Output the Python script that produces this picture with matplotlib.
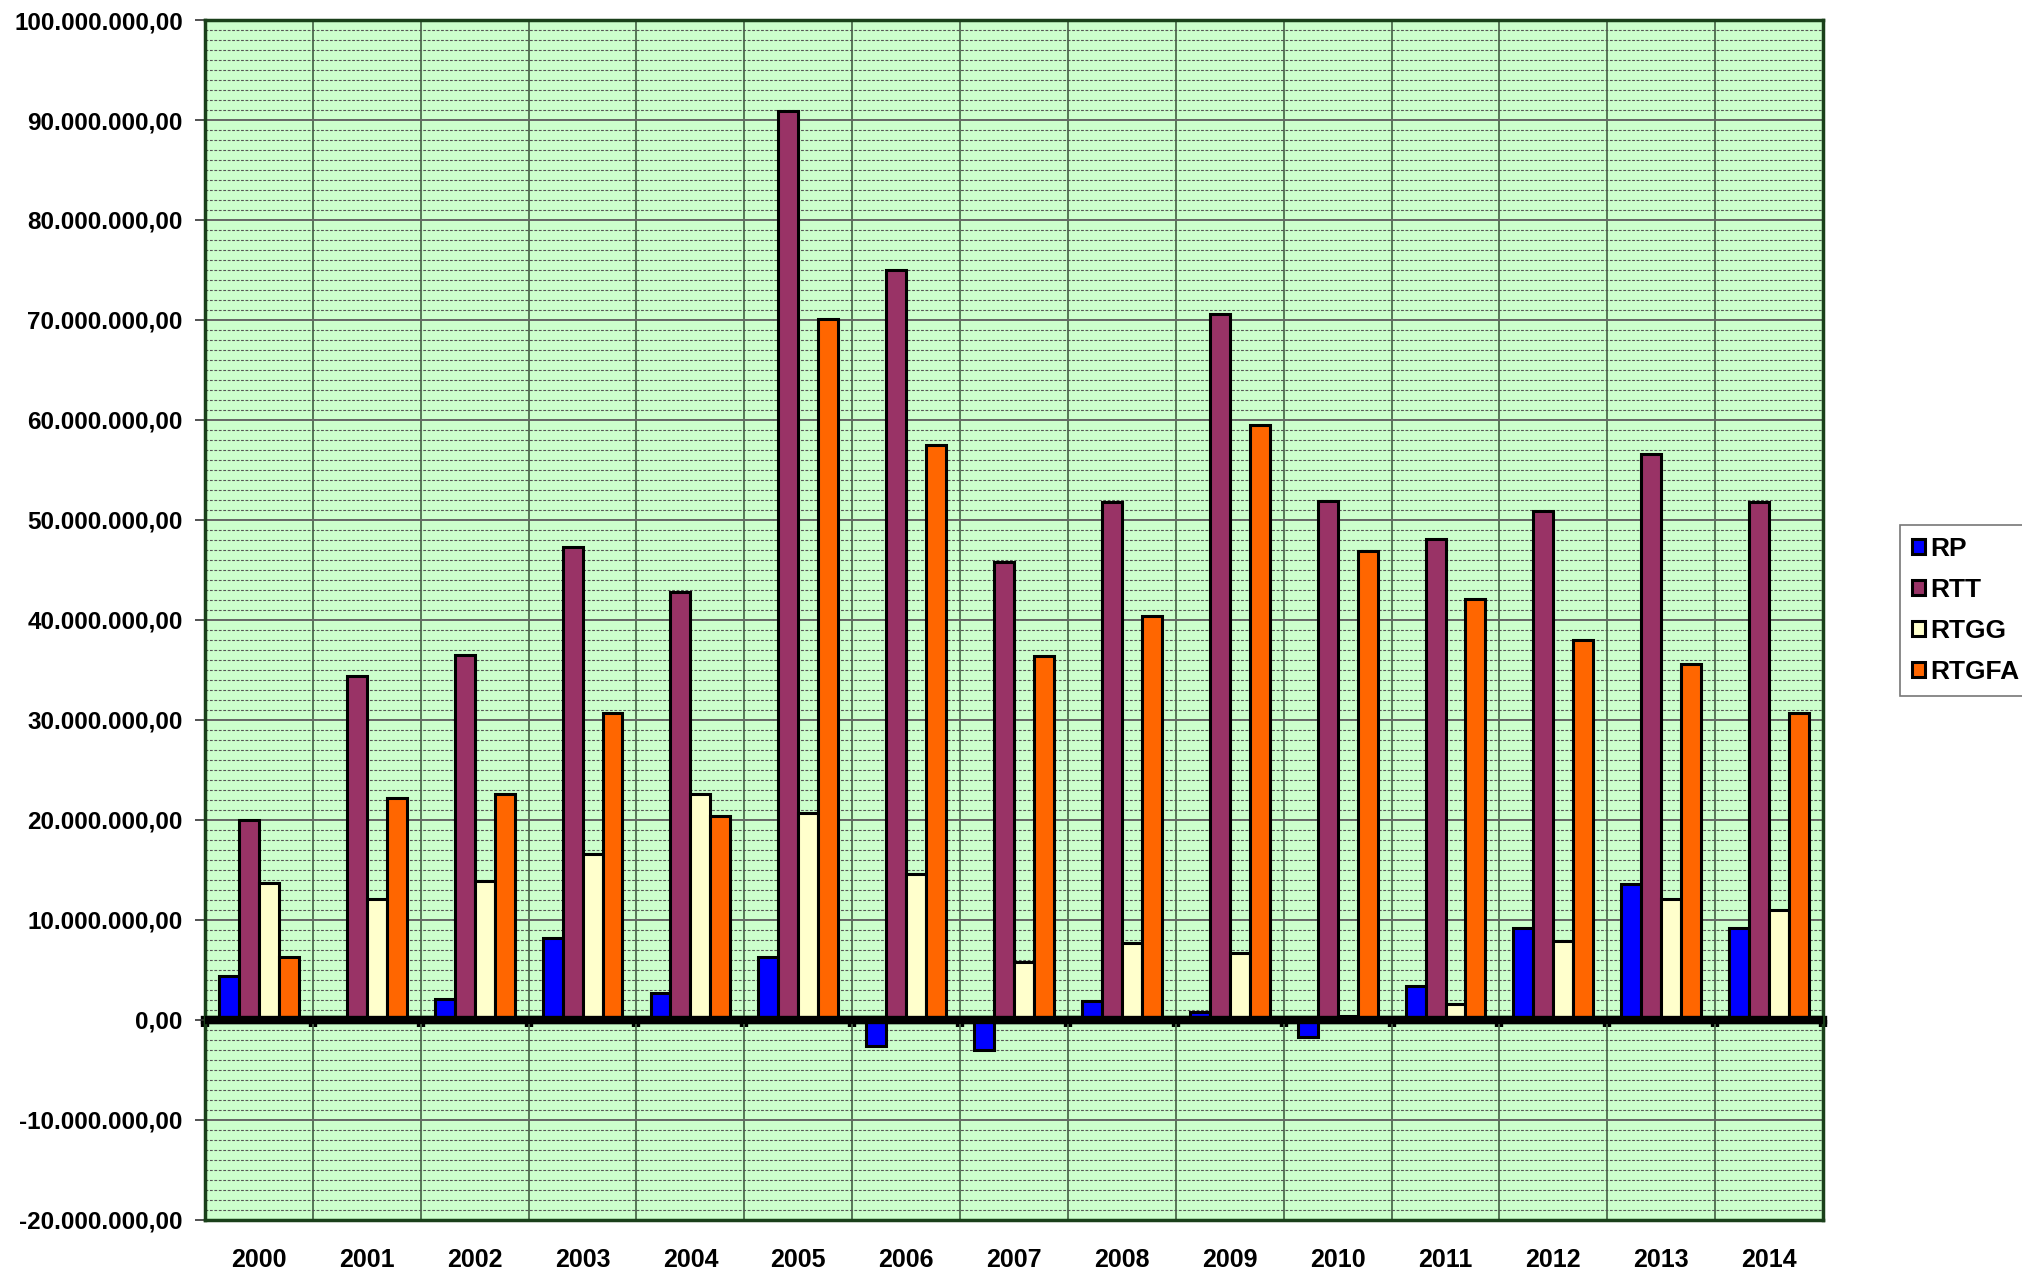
"""Grouped bar chart RP / RTT / RTGG / RTGFA, 2000-2014."""
import matplotlib
matplotlib.use('Agg')
import matplotlib.pyplot as plt
from matplotlib.ticker import FuncFormatter, MultipleLocator
import numpy as np

plt.rcParams['font.family'] = ['Liberation Sans', 'DejaVu Sans']
plt.rcParams['font.weight'] = 'bold'

years = ['2000', '2001', '2002', '2003', '2004', '2005', '2006', '2007',
         '2008', '2009', '2010', '2011', '2012', '2013', '2014']

# values in millions
rp = [4.4, 0.0, 2.1, 8.2, 2.7, 6.3, -2.6, -3.0, 1.9, 0.8, -1.7, 3.4, 9.2, 13.6, 9.2]
rtt = [20.0, 34.4, 36.5, 47.3, 42.8, 90.9, 75.0, 45.8, 51.8, 70.6, 51.9, 48.1, 50.9, 56.6, 51.8]
rtgg = [13.7, 12.1, 13.9, 16.6, 22.6, 20.7, 14.6, 5.8, 7.7, 6.7, 0.4, 1.6, 7.9, 12.1, 11.0]
rtgfa = [6.3, 22.2, 22.6, 30.7, 20.4, 70.1, 57.5, 36.4, 40.4, 59.5, 46.9, 42.1, 38.0, 35.6, 30.7]

series = [('RP', rp, '#0000FF'), ('RTT', rtt, '#993366'),
          ('RTGG', rtgg, '#FFFFCC'), ('RTGFA', rtgfa, '#FF6600')]


def fmt_it(v, pos=None):
    s = f'{v:,.2f}'
    return s.replace(',', 'X').replace('.', ',').replace('X', '.')


fig = plt.figure(figsize=(20.22, 12.74), dpi=100)
ax = fig.add_axes([0.1014, 0.0424, 0.8002, 0.9419])
ax.set_facecolor('#CCFFCC')

x = np.arange(len(years))
w = 0.185
for i, (name, vals, col) in enumerate(series):
    ax.bar(x + (i - 1.5) * w, np.array(vals) * 1e6, width=w, color=col,
           edgecolor='black', linewidth=2.2, label=name, zorder=3)

ax.set_xlim(-0.5, len(years) - 0.5)
ax.set_ylim(-20e6, 100e6)

# y axis
ax.yaxis.set_major_locator(MultipleLocator(10e6))
ax.yaxis.set_minor_locator(MultipleLocator(1e6))
ax.yaxis.set_major_formatter(FuncFormatter(fmt_it))
ax.tick_params(axis='y', which='major', length=7, width=1.2, pad=9,
               labelsize=17.5, direction='out', color='#333333')
ax.tick_params(axis='y', which='minor', length=0)
ax.grid(axis='y', which='major', color='#666666', linewidth=1.4, zorder=0)
ax.grid(axis='y', which='minor', color='#555555', linewidth=0.8,
        linestyle=(0, (2.5, 1.5)), zorder=0)

# x axis: boundaries as major (grid), years as minor labels
ax.set_xticks(np.arange(len(years) + 1) - 0.5)
ax.set_xticks(x, minor=True)
ax.set_xticklabels([], minor=False)
ax.set_xticklabels(years, minor=True)
ax.tick_params(axis='x', which='both', length=0, labelsize=18, pad=20)
ax.grid(axis='x', which='major', color='#4d6b4d', linewidth=1.3, zorder=0)
ax.set_axisbelow(True)

for sp in ax.spines.values():
    sp.set_color('#1a401a')
    sp.set_linewidth(2.5)

# zero axis line with category tick marks
ax.axhline(0, color='black', linewidth=6, zorder=4)
zx = ax.secondary_xaxis(20 / 120)
zx.set_xticks(np.arange(len(years) + 1) - 0.5)
zx.set_xticklabels([])
zx.tick_params(axis='x', length=5, width=6, color='black', direction='out')
zx.spines['bottom'].set_linewidth(6)
zx.spines['bottom'].set_color('black')

leg = fig.legend(loc='upper left', bbox_to_anchor=(0.9397, 0.588),
                 fontsize=19, frameon=True, fancybox=False, edgecolor='#555555',
                 handlelength=0.5, handleheight=0.5, handletextpad=0.2,
                 labelspacing=0.65, borderpad=0.45, borderaxespad=0)
leg.get_frame().set_linewidth(1.2)

fig.savefig('out.png', dpi=100)
